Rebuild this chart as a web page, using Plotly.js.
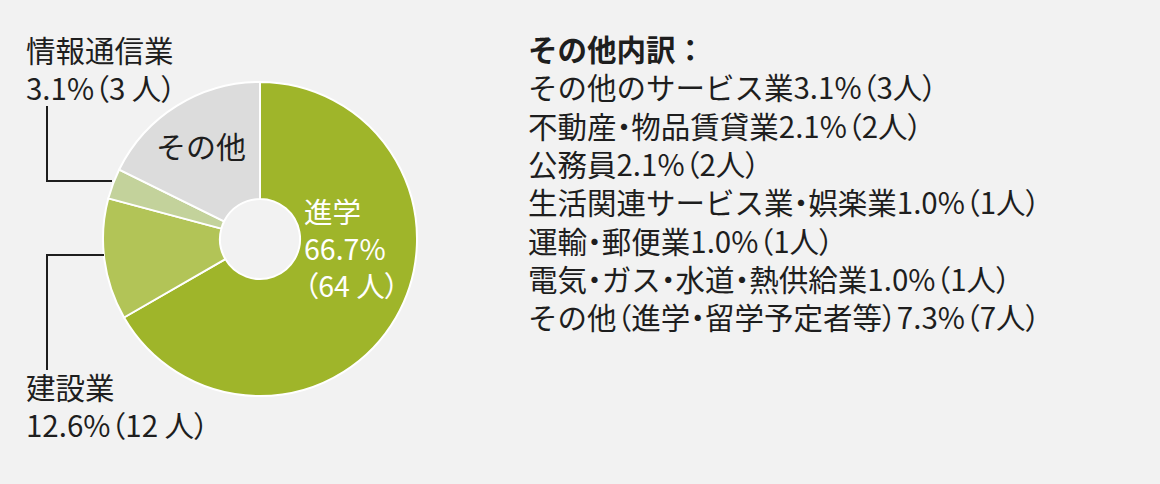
<!DOCTYPE html>
<html>
<head>
<meta charset="utf-8">
<script src="https://cdn.plot.ly/plotly-3.0.1.min.js"></script>
<style>
html,body{margin:0;padding:0;background:#f2f2f2;}
#chart{width:1160px;height:484px;}
</style>
</head>
<body>
<div id="chart"></div>
<script>
const categories = ['進学', '建設業', '情報通信業', 'その他'];
const counts = [64, 12, 3, 17];
const percents = [66.7, 12.6, 3.1, 17.7];
const sliceColors = ['#9fb52a', '#b2c457', '#c3d29b', '#dcdcdc'];

const otherTitle = 'その他内訳：';
const otherItems = ['その他のサービス業', '不動産・物品賃貸業', '公務員', '生活関連サービス業・娯楽業', '運輸・郵便業', '電気・ガス・水道・熱供給業', 'その他（進学・留学予定者等）'];
const otherPercents = [3.1, 2.1, 2.1, 1.0, 1.0, 1.0, 7.3];
const otherCounts = [3, 2, 2, 1, 1, 1, 7];

const W = 1160, H = 484;
const FONT = '"Noto Sans CJK JP", "Noto Sans", sans-serif';
const TXT = '#1e1e1e';
const FS = 29.5;
const px = x => x / W;
const py = y => 1 - y / H;
const P = s => s.replace(/[（）・]/g, c => '<span style="font-feature-settings:\'palt\'">' + c + '</span>');

const cx = 260, cy = 239, R = 157;

const trace = {
  type: 'pie',
  labels: categories,
  values: counts,
  sort: false,
  direction: 'clockwise',
  rotation: 0,
  hole: 0.255,
  textinfo: 'none',
  hoverinfo: 'label+percent',
  marker: {colors: sliceColors, line: {color: '#ffffff', width: 2}},
  domain: {x: [px(cx - R), px(cx + R)], y: [py(cy + R), py(cy - R)]}
};

function ann(x, y, text, opts) {
  return Object.assign({
    xref: 'paper', yref: 'paper', x: px(x), y: py(y),
    xanchor: 'left', yanchor: 'middle', showarrow: false,
    text: P(text), align: 'left',
    font: {family: FONT, size: FS, color: TXT}
  }, opts || {});
}

const white = {family: FONT, size: 28.5, color: '#ffffff'};
const annotations = [];
// inside label of the main slice
annotations.push(ann(302, 247,
  categories[0] + '<br>' + percents[0].toFixed(1) + '%<br>（' + counts[0] + ' 人）', {font: white}));
// その他 label inside slice
annotations.push(ann(201, 145, categories[3], {xanchor: 'center', font: {family: FONT, size: 30, color: TXT}}));
// outside labels
annotations.push(ann(24, 68, categories[2] + '<br>' + percents[2].toFixed(1) + '%（' + counts[2] + ' 人）'));
annotations.push(ann(24, 405, categories[1] + '<br>' + percents[1].toFixed(1) + '%（' + counts[1] + ' 人）'));
// breakdown list
const listLines = ['<b>' + otherTitle + '</b>'].concat(
  otherItems.map((name, i) => name + otherPercents[i].toFixed(1) + '%（' + otherCounts[i] + '人）'));
annotations.push(ann(526, 182, listLines.join('<br>')));

const lineStyle = {color: '#1e1e1e', width: 2};
const shapes = [
  {type: 'path', xref: 'paper', yref: 'paper',
   path: 'M ' + px(47) + ' ' + py(106) + ' L ' + px(47) + ' ' + py(181) + ' L ' + px(112) + ' ' + py(181),
   line: lineStyle},
  {type: 'path', xref: 'paper', yref: 'paper',
   path: 'M ' + px(47) + ' ' + py(370) + ' L ' + px(47) + ' ' + py(255) + ' L ' + px(104) + ' ' + py(255),
   line: lineStyle}
];

const layout = {
  width: W, height: H,
  margin: {l: 0, r: 0, t: 0, b: 0},
  paper_bgcolor: '#f2f2f2',
  plot_bgcolor: '#f2f2f2',
  showlegend: false,
  annotations: annotations,
  shapes: shapes,
  font: {family: FONT}
};

Plotly.newPlot('chart', [trace], layout, {displayModeBar: false, staticPlot: true});
</script>
</body>
</html>
